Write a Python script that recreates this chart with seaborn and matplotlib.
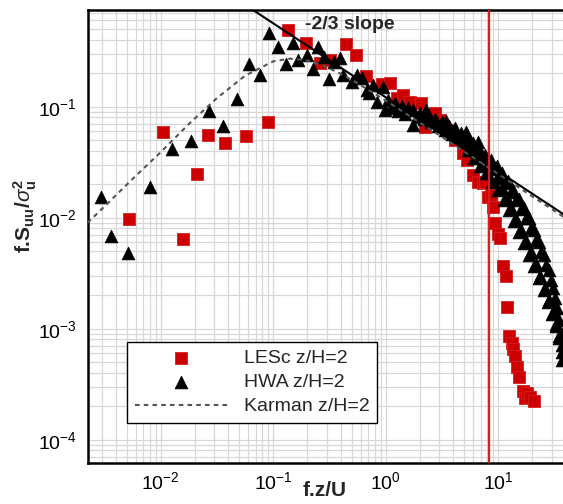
import seaborn as sns
import matplotlib.pyplot as plt
import pandas as pd
import numpy as np

# -------------------
# Data
# -------------------
les_x = [0.00523, 0.01055, 0.0158, 0.0212, 0.0263, 0.037, 0.0577, 0.090,
         0.136, 0.196, 0.261, 0.32, 0.441, 0.544, 0.664, 0.921,
         1.09, 1.25, 1.43, 1.64, 2.05, 2.23, 2.74, 3.04, 3.48, 4.13,
         4.9, 5.25, 6.0, 6.66, 7.28, 7.63, 8.17, 8.58, 9.04, 9.37,
         10.0, 10.4, 11.0, 11.7, 12.05, 12.6, 13.2, 13.6, 14.1, 14.8,
         15.4, 16.5, 17.3, 17.9, 19.2, 20.8]
les_y = [0.0097, 0.0588, 0.0064, 0.0246, 0.0552, 0.0474, 0.0544, 0.0733,
         0.491, 0.377, 0.249, 0.264, 0.367, 0.292, 0.189, 0.16,
         0.164, 0.119, 0.127, 0.111, 0.107, 0.066, 0.0872, 0.076, 0.0617, 0.050,
         0.038, 0.0331, 0.0243, 0.0211, 0.0204, 0.0211, 0.0155, 0.016, 0.0126, 0.009,
         0.0072, 0.0065, 0.00367, 0.00299, 0.00156, 0.00086, 0.00075, 0.00065, 0.00057, 0.000455,
         0.00037, 0.000276, 0.000236, 0.000262, 0.000244, 0.000224]

hwa_x = [0.00293, 0.00364, 0.00512, 0.00809, 0.0126, 0.0187, 0.0269, 0.036,
         0.0477, 0.061, 0.0764, 0.0923, 0.1096, 0.130, 0.151, 0.167,
         0.201, 0.2245, 0.252, 0.284, 0.315, 0.349, 0.393, 0.42,
         0.499, 0.552, 0.612, 0.678, 0.715, 0.777, 0.832, 0.94, 0.986, 1.74,
         1.05, 1.11, 1.21, 1.29, 1.40, 1.49, 1.58, 1.75, 1.90, 2.02,
         2.19, 2.38, 2.53, 2.74, 2.92, 3.16, 3.37, 3.65, 3.88, 4.13,
         4.40, 4.67, 4.97, 5.28, 5.62, 5.97, 6.35, 6.75, 7.18, 7.63,
         8.11, 8.63, 9.18, 9.75, 10.4, 10.8, 11.5, 12.2, 13.0, 13.5,
         14.4, 15.3, 16.0, 16.9, 17.7, 18.8, 19.6, 20.8, 21.7, 23.1,
         24.0, 25.6, 26.6, 28.3, 29.5, 30.8, 32.0, 33.3, 34.8, 36.2, 37.0,
         2.28, 3.44, 5.17, 6.61,
         5.39, 6.10, 6.89, 7.79, 8.81, 9.96, 11.3, 12.5, 13.8, 15.3,
         16.9, 18.8, 20.8, 23.1, 25.6, 27.7, 30.1, 32.7, 34.7, 37.0,
         9.75, 10.8, 12.0, 13.0, 14.4, 16.0, 17.7, 19.6, 21.7, 23.5,
         26.1, 28.3, 30.8, 32.7, 34.7, 37.0]
hwa_y = [0.0155, 0.0068, 0.00484, 0.019, 0.0416, 0.049, 0.092, 0.067,
         0.117, 0.243, 0.193, 0.458, 0.347, 0.243, 0.377, 0.264,
         0.292, 0.217, 0.347, 0.282, 0.177, 0.254, 0.273, 0.193,
         0.168, 0.193, 0.18, 0.141, 0.134, 0.157, 0.111, 0.15, 0.093, 0.068,
         0.115, 0.0973, 0.108, 0.0915, 0.101, 0.086, 0.0973, 0.0933, 0.0807, 0.0877,
         0.0774, 0.0841, 0.0728, 0.0774, 0.067, 0.0728, 0.0617, 0.067, 0.0568, 0.0643,
         0.0533, 0.058, 0.0491, 0.0533, 0.0443, 0.0471, 0.0399, 0.0416, 0.0352, 0.0367,
         0.0311, 0.0331, 0.0275, 0.0292, 0.0238, 0.0253, 0.0206, 0.0214, 0.0171, 0.0178,
         0.0144, 0.0147, 0.012, 0.0122, 0.00993, 0.00993, 0.00807, 0.00774, 0.00629, 0.00604,
         0.00491, 0.00461, 0.00375, 0.00338, 0.00275, 0.00233, 0.00189, 0.00154, 0.0012, 0.000916, 0.000713,
         0.0933, 0.0743, 0.0591, 0.0481,
         0.0407, 0.0345, 0.0292, 0.0253, 0.0210, 0.0178, 0.0144, 0.0117, 0.00933, 0.00743,
         0.00592, 0.00461, 0.00367, 0.00286, 0.00223, 0.00174, 0.00136, 0.00106, 0.000824, 0.000617,
         0.0228, 0.0185, 0.0150, 0.0122, 0.00973, 0.00774, 0.00617, 0.00491, 0.00383, 0.00298,
         0.00232, 0.00181, 0.00141, 0.0011, 0.00086, 0.000522]

karman_x = [0.00224, 0.00316, 0.00562, 0.01, 0.0178, 0.0316, 0.0562, 0.1,
            0.141, 0.2, 0.282, 0.398, 0.562, 1.0, 1.778, 3.162, 5.623,
            10.0, 17.78, 39.8]
karman_y = [0.0090, 0.0126, 0.0223, 0.0389, 0.0698, 0.1195, 0.190, 0.256,
            0.271, 0.261, 0.2335, 0.198, 0.1625, 0.1136, 0.078, 0.0534, 0.0364,
            0.0248, 0.0169, 0.00989]

slope_x = [0.065, 40.0]
slope_y = [0.752, 0.0104]

red_line_x = 8.33

les = pd.DataFrame({"x": les_x, "y": les_y})
hwa = pd.DataFrame({"x": hwa_x, "y": hwa_y})
karman = pd.DataFrame({"x": karman_x, "y": karman_y})

# -------------------
# Styling
# -------------------
sns.set_theme(style="white")
plt.rcParams['font.family'] = ['Liberation Sans', 'DejaVu Sans']
plt.rcParams['mathtext.fontset'] = 'custom'
plt.rcParams['mathtext.rm'] = 'Liberation Sans'
plt.rcParams['mathtext.bf'] = 'Liberation Sans:bold'
plt.rcParams['mathtext.it'] = 'Liberation Sans:italic'

fig = plt.figure(figsize=(5.63, 5.04), dpi=100)
ax = fig.add_axes([88 / 563, 41 / 504, 475 / 563, 453 / 504])
ax.set_xscale("log")
ax.set_yscale("log")

sns.scatterplot(data=les, x="x", y="y", ax=ax, marker="s", s=70,
                color="#cc0000", edgecolor="#d42020", linewidth=0.6,
                label="LESc z/H=2", zorder=3)
sns.scatterplot(data=hwa, x="x", y="y", ax=ax, marker="^", s=85,
                color="black", edgecolor="black", linewidth=0.5,
                label="HWA z/H=2", zorder=4)
sns.lineplot(data=karman, x="x", y="y", ax=ax, color="#555555",
             linewidth=1.5, dashes=(2.2, 2.0), label="Karman z/H=2", zorder=5)
ax.plot(slope_x, slope_y, color="black", linewidth=1.5, zorder=6)
ax.axvline(red_line_x, color="#dd1c1c", linewidth=1.6, zorder=7)

ax.text(0.457, 0.967, "-2/3 slope", transform=ax.transAxes, fontsize=14,
        fontweight="bold", ha="left", va="center")

ax.set_xlim(2.26e-3, 37.7)
ax.set_ylim(6.17e-5, 0.743)

ax.grid(True, which="both", color="#d8d8d8", linewidth=0.9)
ax.set_axisbelow(True)
for side in ["left", "bottom", "top"]:
    ax.spines[side].set_linewidth(1.8)
    ax.spines[side].set_color("black")
ax.spines["right"].set_visible(False)

ax.tick_params(which="both", direction="in", top=False, right=False, colors="black")
ax.tick_params(which="major", length=8, width=1.3, labelsize=14)
ax.tick_params(axis="y", which="major", pad=8)
ax.tick_params(axis="x", which="major", pad=6)
ax.tick_params(which="minor", length=4.5, width=1.0)

ax.set_xlabel("")
ax.set_ylabel("")
fig.text(325 / 563, 1 - 490 / 504, "f.z/U", fontsize=15, fontweight="bold",
         ha="center", va="center")
fig.text(25 / 563, 1 - 216 / 504, r"f.S$_{\mathbf{uu}}$/$\sigma_{\mathbf{u}}^{\mathbf{2}}$",
         rotation=90, fontsize=15, fontweight="bold", ha="center", va="center")

leg = ax.legend(loc="upper left", bbox_to_anchor=(0.082, 0.267), fontsize=14,
                frameon=True, fancybox=False, edgecolor="black", framealpha=1,
                borderpad=0.4, handlelength=4.8, handletextpad=0.8,
                labelspacing=0.33, borderaxespad=0)
leg.get_frame().set_linewidth(1.0)

fig.savefig("out.png", dpi=100)
plt.close()
